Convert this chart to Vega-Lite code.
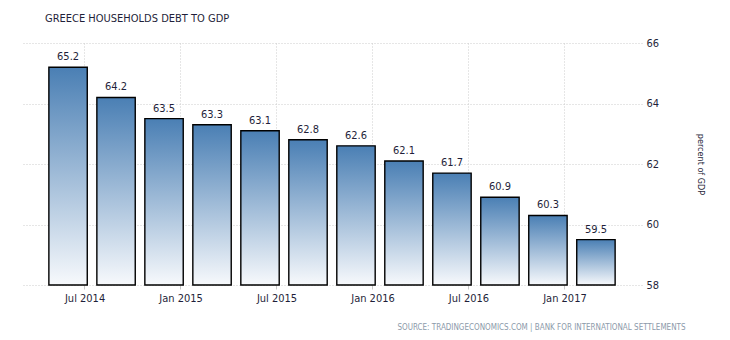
{
  "$schema": "https://vega.github.io/schema/vega-lite/v6.json",
  "autosize": "none",
  "width": 620,
  "height": 242,
  "padding": {"left": 22, "top": 43, "right": 88, "bottom": 55},
  "background": "white",
  "config": {
    "view": {"stroke": null},
    "font": "DejaVu Sans Condensed, DejaVu Sans",
    "axis": {"labelFont": "DejaVu Sans Condensed, DejaVu Sans", "titleFont": "DejaVu Sans Condensed, DejaVu Sans"}
  },
  "title": {
    "text": "GREECE HOUSEHOLDS DEBT TO GDP",
    "anchor": "start",
    "dx": 23,
    "offset": 13,
    "fontSize": 11,
    "fontWeight": "normal",
    "color": "#1f1f3a"
  },
  "data": {
    "values": [
      {"date": "2014-06-30", "value": 65.2},
      {"date": "2014-09-30", "value": 64.2},
      {"date": "2014-12-31", "value": 63.5},
      {"date": "2015-03-31", "value": 63.3},
      {"date": "2015-06-30", "value": 63.1},
      {"date": "2015-09-30", "value": 62.8},
      {"date": "2015-12-31", "value": 62.6},
      {"date": "2016-03-31", "value": 62.1},
      {"date": "2016-06-30", "value": 61.7},
      {"date": "2016-09-30", "value": 60.9},
      {"date": "2016-12-31", "value": 60.3},
      {"date": "2017-03-31", "value": 59.5}
    ]
  },
  "encoding": {
    "x": {
      "field": "date",
      "type": "ordinal",
      "sort": null,
      "scale": {"paddingInner": 0.2, "paddingOuter": 0.56},
      "axis": {
        "values": ["2014-06-30", "2014-12-31", "2015-06-30", "2015-12-31", "2016-06-30", "2016-12-31"],
        "labelExpr": "utcFormat(utcOffset('day', toDate(datum.value), 1), '%b %Y')",
        "bandPosition": 0.92,
        "labelOffset": 17,
        "labelAngle": 0,
        "labelFontSize": 11,
        "labelColor": "#1f1f3a",
        "labelPadding": 3,
        "tickColor": "#c8c8c8",
        "tickSize": 4,
        "domain": false,
        "grid": true,
        "gridColor": "#cccccc",
        "gridDash": [1, 2],
        "zindex": 0,
        "title": "SOURCE: TRADINGECONOMICS.COM | BANK FOR INTERNATIONAL SETTLEMENTS",
        "titleFontSize": 8,
        "titleFontWeight": "normal",
        "titleColor": "#8c9aaa",
        "titleAnchor": "end",
        "titleX": 663,
        "titleAlign": "right",
        "titlePadding": 20
      }
    },
    "y": {
      "field": "value",
      "type": "quantitative",
      "scale": {"domain": [58, 66], "zero": false, "nice": false},
      "axis": {
        "orient": "right",
        "values": [58, 60, 62, 64, 66],
        "ticks": false,
        "domain": false,
        "labelPadding": 4,
        "labelFontSize": 11,
        "labelColor": "#1f1f3a",
        "grid": true,
        "gridColor": "#cccccc",
        "gridDash": [1, 2],
        "title": "percent of GDP",
        "titleFontSize": 9,
        "titleFontWeight": "normal",
        "titleColor": "#1f1f3a",
        "titlePadding": 37
      }
    }
  },
  "layer": [
    {
      "mark": {
        "type": "bar",
        "stroke": "black",
        "strokeWidth": 1.4,
        "fill": {
          "gradient": "linear",
          "x1": 0, "y1": 0, "x2": 0, "y2": 1,
          "stops": [
            {"offset": 0, "color": "#4a7fb4"},
            {"offset": 1, "color": "#f7f9fc"}
          ]
        }
      },
      "encoding": {"y2": {"datum": 58}}
    },
    {
      "mark": {"type": "text", "baseline": "bottom", "dy": -5, "fontSize": 11, "color": "#1f1f3a"},
      "encoding": {"text": {"field": "value", "type": "quantitative", "format": ".1f"}}
    }
  ]
}
